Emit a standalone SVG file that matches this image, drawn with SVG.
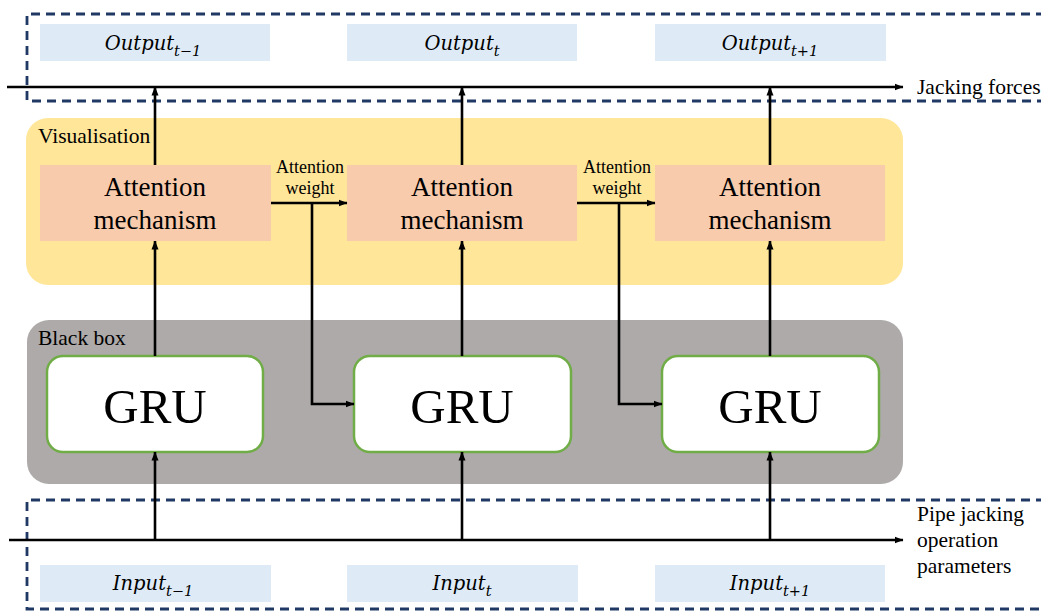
<svg xmlns="http://www.w3.org/2000/svg" width="1041" height="612" viewBox="0 0 1041 612">
<defs>
<marker id="ah" markerWidth="9" markerHeight="8" refX="8.5" refY="4" orient="auto" markerUnits="userSpaceOnUse">
<path d="M0,0.5 L9,4 L0,7.5 z" fill="#000"/>
</marker>
<style>
.dash{fill:none;stroke:#203864;stroke-width:2.8;stroke-dasharray:9 6}
.io{fill:#deebf7}
.att{fill:#f8cbad}
.gru{fill:#fff;stroke:#70ad47;stroke-width:2.5}
.lna{fill:none;stroke:#000;stroke-width:2.6;marker-end:url(#ah)}
text{font-family:'Liberation Serif','Times New Roman',serif;fill:#000}
.m{font-family:'DejaVu Serif','Liberation Serif',serif;font-style:italic;font-size:19.5px}
.sub{font-size:14.5px}
.lab{font-size:21.5px}
.aw{font-size:18px}
.am{font-size:27px}
.g{font-size:49px}
</style>
</defs>
<rect width="1041" height="612" fill="#fff"/>
<g id="output-frame">
<path class="dash" d="M1045,14 H27 V101 H1045"/>
</g>
<g id="input-frame">
<path class="dash" d="M1045,500 H27 V609 H1045"/>
</g>
<g id="visualisation">
<rect x="26" y="118" width="877" height="167" rx="22" fill="#ffe699"/>
<text x="38" y="143" font-size="21.5">Visualisation</text>
</g>
<g id="blackbox">
<rect x="27" y="320" width="876" height="164" rx="22" fill="#aeaaaa"/>
<text x="38" y="345" font-size="21.5">Black box</text>
</g>
<g id="out1"><rect class="io" x="40" y="24" width="230" height="37"/><text class="m" x="153" y="50" text-anchor="middle">Output<tspan class="sub" dy="6">t−1</tspan></text></g>
<g id="out2"><rect class="io" x="347" y="24" width="230" height="37"/><text class="m" x="462" y="50" text-anchor="middle">Output<tspan class="sub" dy="6">t</tspan></text></g>
<g id="out3"><rect class="io" x="655" y="24" width="231" height="37"/><text class="m" x="770" y="50" text-anchor="middle">Output<tspan class="sub" dy="6">t+1</tspan></text></g>
<g id="in1"><rect class="io" x="40" y="565" width="231" height="37"/><text class="m" x="153" y="590" text-anchor="middle">Input<tspan class="sub" dy="6">t−1</tspan></text></g>
<g id="in2"><rect class="io" x="347" y="565" width="231" height="37"/><text class="m" x="462" y="590" text-anchor="middle">Input<tspan class="sub" dy="6">t</tspan></text></g>
<g id="in3"><rect class="io" x="655" y="565" width="230" height="37"/><text class="m" x="770" y="590" text-anchor="middle">Input<tspan class="sub" dy="6">t+1</tspan></text></g>
<g id="att1"><rect class="att" x="40" y="165" width="231" height="76"/><text class="am" x="155" y="196" text-anchor="middle">Attention</text><text class="am" x="155" y="229" text-anchor="middle">mechanism</text></g>
<g id="att2"><rect class="att" x="347" y="165" width="230" height="76"/><text class="am" x="462" y="196" text-anchor="middle">Attention</text><text class="am" x="462" y="229" text-anchor="middle">mechanism</text></g>
<g id="att3"><rect class="att" x="655" y="165" width="230" height="76"/><text class="am" x="770" y="196" text-anchor="middle">Attention</text><text class="am" x="770" y="229" text-anchor="middle">mechanism</text></g>
<g id="gru1"><rect class="gru" x="47" y="356" width="216" height="96" rx="16"/><text class="g" x="155" y="423" text-anchor="middle">GRU</text></g>
<g id="gru2"><rect class="gru" x="354" y="356" width="217" height="96" rx="16"/><text class="g" x="462" y="423" text-anchor="middle">GRU</text></g>
<g id="gru3"><rect class="gru" x="662" y="356" width="217" height="96" rx="16"/><text class="g" x="770" y="423" text-anchor="middle">GRU</text></g>
<g id="labels">
<text class="lab" x="917" y="94">Jacking forces</text>
<text class="lab" x="917" y="521">Pipe jacking</text>
<text class="lab" x="917" y="547">operation</text>
<text class="lab" x="917" y="573">parameters</text>
<text class="aw" x="310" y="173" text-anchor="middle">Attention</text>
<text class="aw" x="310" y="194" text-anchor="middle">weight</text>
<text class="aw" x="617" y="173" text-anchor="middle">Attention</text>
<text class="aw" x="617" y="194" text-anchor="middle">weight</text>
</g>
<g id="connectors">
<path class="lna" d="M7,87 H903"/>
<path class="lna" d="M9,540 H903"/>
<path class="lna" d="M155,165 V87"/>
<path class="lna" d="M462,165 V87"/>
<path class="lna" d="M770,165 V87"/>
<path class="lna" d="M155,356 V241"/>
<path class="lna" d="M462,356 V241"/>
<path class="lna" d="M770,356 V241"/>
<path class="lna" d="M155,540 V452"/>
<path class="lna" d="M462,540 V452"/>
<path class="lna" d="M770,540 V452"/>
<path class="lna" d="M271,203 H347"/>
<path class="lna" d="M577,203 H655"/>
<path class="lna" d="M312,203 V404 H354"/>
<path class="lna" d="M619,203 V404 H662"/>
</g>
</svg>
